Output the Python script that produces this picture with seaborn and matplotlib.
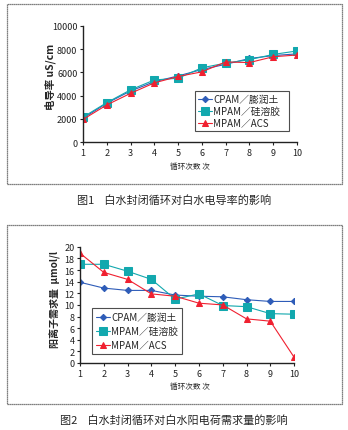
import matplotlib
matplotlib.use("Agg")
import matplotlib.pyplot as plt
import seaborn as sns
import pandas as pd
from matplotlib.patches import Rectangle

sns.set_style("ticks")
plt.rcParams['font.family'] = ['Noto Sans CJK SC', 'DejaVu Sans']

cycles = [1, 2, 3, 4, 5, 6, 7, 8, 9, 10]
series_names = ["CPAM／膨润土", "MPAM／硅溶胶", "MPAM／ACS"]

cond_cpam = [2050, 3350, 4400, 5200, 5700, 6250, 6700, 7200, 7450, 7600]
cond_mpam_si = [2150, 3400, 4500, 5350, 5500, 6400, 6800, 7100, 7550, 7850]
cond_mpam_acs = [1950, 3200, 4200, 5100, 5650, 6050, 6900, 6850, 7350, 7500]

dem_cpam = [13.9, 12.9, 12.5, 12.5, 11.7, 11.5, 11.4, 10.9, 10.6, 10.6]
dem_mpam_si = [17.0, 17.0, 15.8, 14.4, 11.0, 11.9, 9.9, 9.7, 8.5, 8.4]
dem_mpam_acs = [18.9, 15.6, 14.4, 11.9, 11.5, 10.3, 10.0, 7.6, 7.2, 1.0]

palette = {series_names[0]: "#2E5CB8", series_names[1]: "#12A8AE", series_names[2]: "#F02030"}
markers = {series_names[0]: "D", series_names[1]: "s", series_names[2]: "^"}
msizes = {series_names[0]: 3.2, series_names[1]: 5.5, series_names[2]: 5}


def make_df(vals):
    rows = []
    for name, v in zip(series_names, vals):
        for c, y in zip(cycles, v):
            rows.append({"cycle": c, "value": y, "series": name})
    return pd.DataFrame(rows)


df1 = make_df([cond_cpam, cond_mpam_si, cond_mpam_acs])
df2 = make_df([dem_cpam, dem_mpam_si, dem_mpam_acs])

fig = plt.figure(figsize=(3.48, 4.31), dpi=100)

# outer frames
for (y0, h) in [(0.5708, 0.4176), (0.0603, 0.415)]:
    fig.patches.append(Rectangle((0.02, y0), 0.963, h, transform=fig.transFigure,
                                 fill=False, edgecolor="#555555", linewidth=0.9,
                                 linestyle=(0, (1, 0.6))))

ax1 = fig.add_axes([0.2385, 0.668, 0.615, 0.2694])
ax2 = fig.add_axes([0.230, 0.1555, 0.615, 0.2694])


def draw(ax, df, ylim, yticks):
    for name in series_names:
        sub = df[df["series"] == name]
        sns.lineplot(data=sub, x="cycle", y="value", ax=ax, color=palette[name],
                     marker=markers[name], markersize=msizes[name],
                     markeredgecolor=palette[name], linewidth=0.8, label=name)
    ax.set_xlim(1, 10)
    ax.set_ylim(*ylim)
    ax.set_xticks(cycles)
    ax.set_yticks(yticks)
    ax.tick_params(labelsize=6.5, length=2, width=0.8, pad=2, colors="#222222")
    for s in ["top", "right"]:
        ax.spines[s].set_visible(False)
    for s in ["left", "bottom"]:
        ax.spines[s].set_color("#222222")
        ax.spines[s].set_linewidth(1.0)
    ax.set_xlabel("")
    ax.set_ylabel("")
    ax.set_facecolor("white")


draw(ax1, df1, (0, 10000), [0, 2000, 4000, 6000, 8000, 10000])
draw(ax2, df2, (0, 20), list(range(0, 21, 2)))

leg1 = ax1.legend(loc="lower left", bbox_to_anchor=(0.523, 0.095, 0.44, 0.325),
                  mode="expand", fontsize=7, frameon=True, fancybox=False,
                  borderpad=0.3, labelspacing=0.2, handlelength=1.5,
                  handletextpad=0.1, borderaxespad=0)
leg2 = ax2.legend(loc="lower left", bbox_to_anchor=(0.056, 0.078, 0.42, 0.39),
                  mode="expand", fontsize=7, frameon=True, fancybox=False,
                  borderpad=0.4, labelspacing=0.4, handlelength=1.5,
                  handletextpad=0.1, borderaxespad=0)
for leg in (leg1, leg2):
    leg.get_frame().set_edgecolor("#222222")
    leg.get_frame().set_linewidth(0.8)

fig.text(0.144, 0.821, "电导率 uS/cm", rotation=90, ha="center", va="center",
         fontsize=7.5, fontweight="bold")
fig.text(0.158, 0.304, "阳离子需求量  μmol/l", rotation=90, ha="center", va="center",
         fontsize=7.2, fontweight="bold")

fig.text(0.546, 0.6125, "循环次数 次", ha="center", va="center", fontsize=5.5)
fig.text(0.546, 0.102, "循环次数 次", ha="center", va="center", fontsize=5.5)

fig.text(0.5, 0.536, "图1    白水封闭循环对白水电导率的影响", ha="center", va="center", fontsize=8)
fig.text(0.5, 0.025, "图2    白水封闭循环对白水阳电荷需求量的影响", ha="center", va="center", fontsize=8)

fig.savefig("out.png", dpi=100)
